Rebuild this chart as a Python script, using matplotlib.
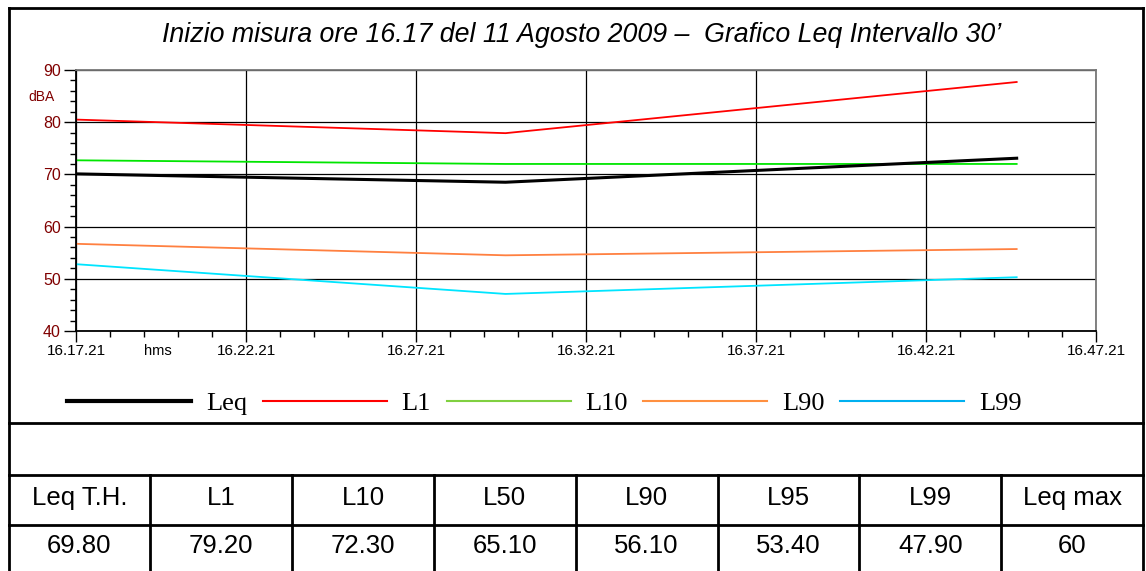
import matplotlib
matplotlib.use("Agg")
import matplotlib.pyplot as plt
from matplotlib.lines import Line2D
from matplotlib.ticker import MultipleLocator

# chart data
title = "Inizio misura ore 16.17 del 11 Agosto 2009 \u2013  Grafico Leq Intervallo 30\u2019"
start = "16.17.21"
times = ["16.17.21", "16.29.59", "16.45.01"]
leq = [70.1, 68.5, 73.1]
l1 = [80.5, 77.9, 87.7]
l10 = [72.7, 72.0, 72.0]
l90 = [56.7, 54.5, 55.7]
l99 = [52.8, 47.1, 50.3]

tick_times = ["16.17.21", "16.22.21", "16.27.21", "16.32.21",
              "16.37.21", "16.42.21", "16.47.21"]

table_head = ["Leq T.H.", "L1", "L10", "L50", "L90", "L95", "L99", "Leq max"]
table_vals = ["69.80", "79.20", "72.30", "65.10", "56.10", "53.40", "47.90", "60"]


def to_min(s):
    h, m, sec = [int(v) for v in s.split(".")]
    h0, m0, s0 = [int(v) for v in start.split(".")]
    return (h * 3600 + m * 60 + sec - (h0 * 3600 + m0 * 60 + s0)) / 60.0


x = [to_min(t) for t in times]
xticks = [to_min(t) for t in tick_times]

plt.rcParams['font.family'] = ['Liberation Sans', 'DejaVu Sans']

W, H = 1146, 571
fig = plt.figure(figsize=(W / 100, H / 100), dpi=100)

# background frame + table, in pixel units
bg = fig.add_axes([0, 0, 1, 1])
bg.set_xlim(0, W)
bg.set_ylim(H, 0)
bg.axis('off')

left, right = 8.5, 1143
lw_frame = 2.0
bg.plot([left, left], [8, H + 5], color='black', lw=lw_frame)
bg.plot([right, right], [8, H + 5], color='black', lw=lw_frame)
for yy in [8, 423, 475, 525]:
    bg.plot([left, right], [yy, yy], color='black', lw=lw_frame)

ncol = len(table_head)
cw = (right - left) / ncol
for i in range(1, ncol):
    bg.plot([left + i * cw, left + i * cw], [475, H + 5], color='black', lw=lw_frame)
for i in range(ncol):
    cx = left + (i + 0.5) * cw
    bg.text(cx, 505, table_head[i], ha='center', va='baseline', fontsize=18.5)
    bg.text(cx, 553, table_vals[i], ha='center', va='baseline', fontsize=18.5)

bg.text(582, 42, title, ha='center', va='baseline', fontsize=19.3, style='italic')

# main plot
ax = fig.add_axes([76 / W, 1 - 331 / H, 1020 / W, 261 / H])
ax.plot(x, l1, color='#ff0000', lw=1.3)
ax.plot(x, l10, color='#00e600', lw=1.3)
ax.plot(x, l90, color='#ff8040', lw=1.3)
ax.plot(x, l99, color='#00e5ff', lw=1.3)
ax.plot(x, leq, color='black', lw=2.2)

ax.set_xlim(xticks[0], xticks[-1])
ax.set_ylim(40, 90)
ax.set_xticks(xticks)
ax.set_xticklabels(tick_times)
ax.xaxis.set_minor_locator(MultipleLocator(1))
ax.yaxis.set_major_locator(MultipleLocator(10))
ax.yaxis.set_minor_locator(MultipleLocator(2))
ax.grid(which='major', color='black', lw=0.9)
ax.tick_params(axis='x', which='major', length=8, width=1, pad=1.5,
               labelsize=11, colors='black')
ax.tick_params(axis='x', which='minor', length=4.5, width=1)
ax.tick_params(axis='y', which='major', length=9, width=1, pad=2,
               labelsize=11.5, labelcolor='#800000')
ax.tick_params(axis='y', which='minor', length=4.5, width=1)
for s in ['left', 'bottom']:
    ax.spines[s].set_linewidth(1.3)
for s in ['top', 'right']:
    ax.spines[s].set_color('#777777')
    ax.spines[s].set_linewidth(1.3)

ax.text(2.4, -0.077, "hms", transform=ax.get_xaxis_transform(),
        ha='center', va='center', fontsize=10.5)
ax.text(-0.034, 0.897, "dBA", transform=ax.transAxes, ha='center',
        va='center', fontsize=10, color='#800000')

# legend
handles = [Line2D([], [], color='black', lw=3),
           Line2D([], [], color='#ff0000', lw=1.5),
           Line2D([], [], color='#80d040', lw=1.5),
           Line2D([], [], color='#ff9040', lw=1.5),
           Line2D([], [], color='#00b0f0', lw=1.5)]
fig.legend(handles, ["Leq", "L1", "L10", "L90", "L99"], loc='center',
           bbox_to_anchor=(0.475, 1 - 403 / H), ncol=5, frameon=False,
           prop={'family': 'Liberation Serif', 'size': 19},
           handlelength=4.7, handletextpad=0.55, columnspacing=0.6)

fig.savefig("out.png", dpi=100)
